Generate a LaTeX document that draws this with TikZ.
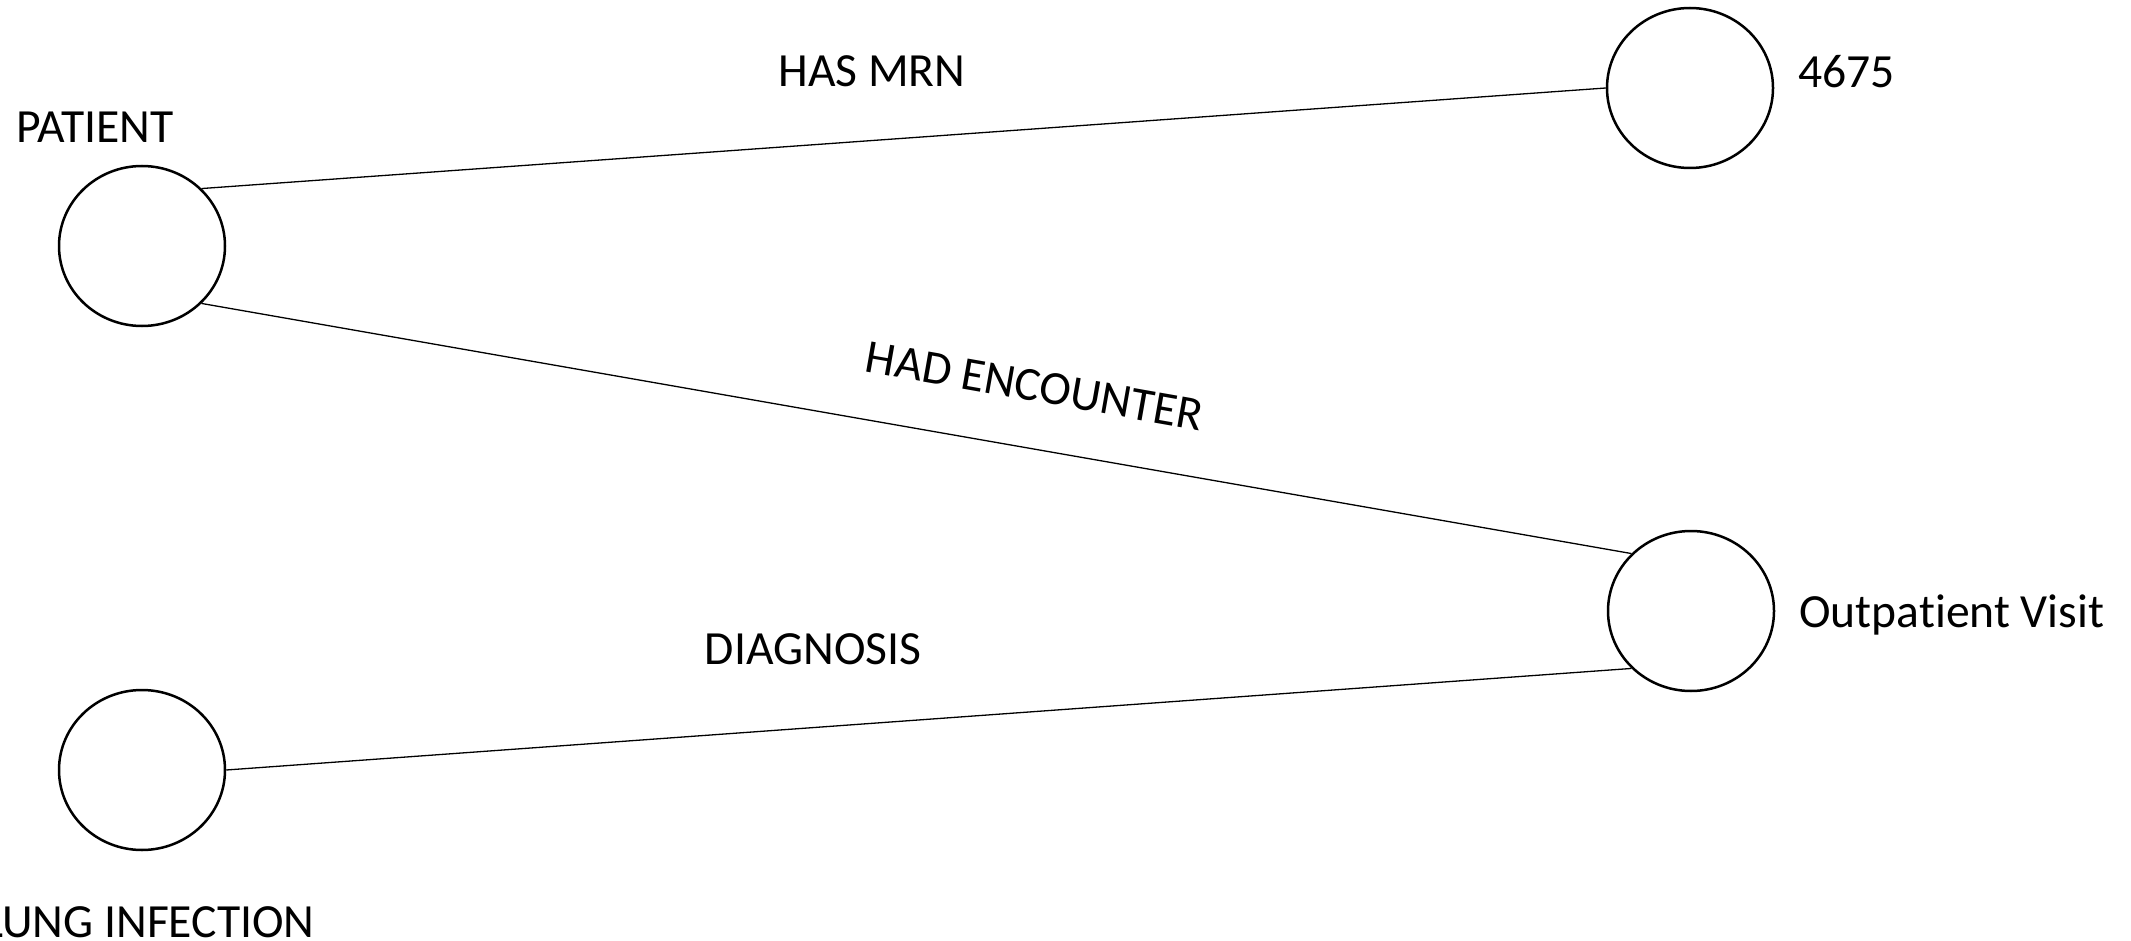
\documentclass[tikz,border=0pt]{standalone}
\usepackage{fontspec}
\setmainfont{Carlito}[Ligatures=NoCommon]
\usetikzlibrary{shapes.geometric}
\begin{document}
\begin{tikzpicture}[x=0.5pt,y=-0.5pt,
  entity/.style={draw=black,line width=1.25pt,ellipse,minimum width=83pt,minimum height=80pt,inner sep=0pt,fill=white},
  lbl/.style={inner sep=0pt,font=\fontsize{23.8pt}{28pt}\selectfont},
  link/.style={draw=black,line width=0.65pt}]
\useasboundingbox[fill=white] (0,0) rectangle (2131,941);
\node[entity] (pat) at (142,246) {};
\node[entity] (mrn) at (1690,88) {};
\node[entity] (vis) at (1691,611) {};
\node[entity] (lung) at (142,770) {};
\node[lbl,anchor=base west] (tpat) at (16,143) {PATIENT};
\node[lbl,anchor=base west] (tmrn) at (1798,88) {4675};
\node[lbl,anchor=base west] (tvis) at (1799,627) {Outpatient Visit};
\node[lbl,anchor=base east] (tlung) at (315,937) {LUNG INFECTION};
\draw[link] (pat.north east) -- (mrn.west);
\draw[link] (pat.south east) -- (vis.north west);
\draw[link] (vis.south west) -- (lung.east);
\node[lbl,anchor=base] (e1) at (872,87) {HAS MRN};
\node[lbl,anchor=base] (e3) at (813,664) {DIAGNOSIS};
\node[lbl,anchor=base,rotate=-10] (e2) at (1032,401) {HAD ENCOUNTER};
\end{tikzpicture}
\end{document}
